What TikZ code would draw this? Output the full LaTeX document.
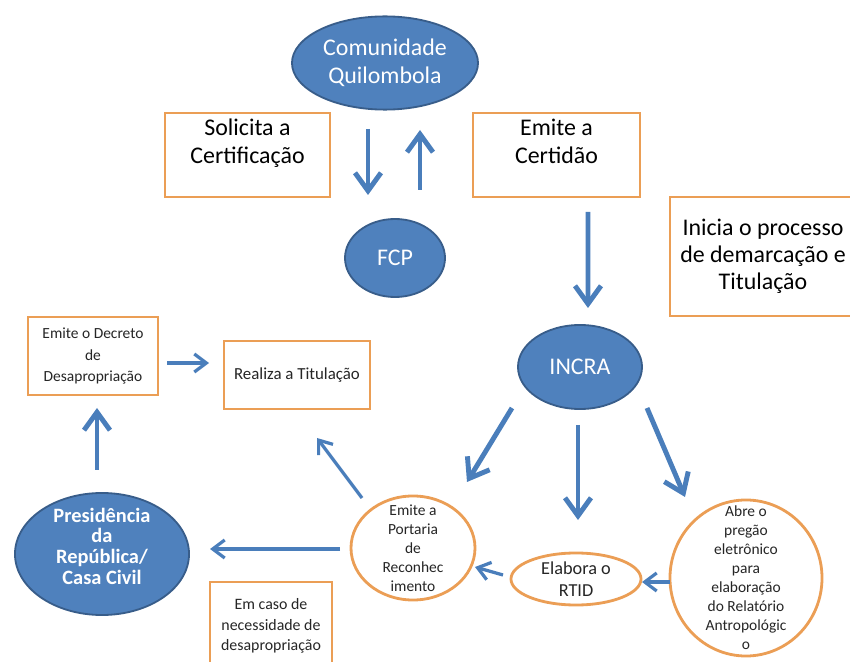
\documentclass[tikz,border=0pt]{standalone}
\usepackage{fontspec}
\setmainfont{Carlito}
\usetikzlibrary{arrows.meta, shapes.geometric}

\definecolor{nodeblue}{RGB}{79,129,189}
\definecolor{edgeblue}{RGB}{56,93,138}
\definecolor{arrowblue}{RGB}{74,126,187}
\definecolor{boxorange}{RGB}{235,158,85}

\tikzset{
  blueell/.style={ellipse, draw=edgeblue, line width=1.3pt, fill=nodeblue, text=white, inner sep=0pt, align=center},
  orangeell/.style={ellipse, draw=boxorange, line width=2pt, fill=white, inner sep=0pt},
  orangebox/.style={rectangle, draw=boxorange, line width=2pt, fill=white, align=center, inner sep=0pt},
  bigarrow/.style={draw=arrowblue, line width=3.5pt, -{Straight Barb[length=4.5mm,width=6.5mm]}},
  smallarrow/.style={draw=arrowblue, line width=2.3pt, -{Straight Barb[length=3mm,width=4.5mm]}},
  bigtext/.style={font=\fontsize{17}{20}\selectfont},
  smalltext/.style={font=\fontsize{11}{13.5}\selectfont, align=center, text=black!85},
}

\begin{document}
\begin{tikzpicture}[x=0.025cm, y=-0.025cm]

% Fix the frame of the picture
\useasboundingbox (0,0) rectangle (850,662);
\clip (0,0) rectangle (850,662);

% Draw the blue ellipses
\node[blueell, bigtext, minimum width=4.65cm, minimum height=2.33cm] (quilombola) at (385,63) {Comunidade\\Quilombola};
\node[blueell, bigtext, minimum width=2.5cm, minimum height=1.95cm] (fcp) at (395,258) {FCP};
\node[blueell, bigtext, minimum width=3.1cm, minimum height=2.1cm] (incra) at (580,367) {INCRA};
\node[blueell, minimum width=4.35cm, minimum height=3.05cm] (presidencia) at (102,554) {};
\node[text=white, align=center, font=\bfseries\fontsize{14.5}{14.7}\selectfont] (presidenciatxt) at ([shift={(0,-8)}]presidencia.center) {Presidência\\da\\República/\\Casa Civil};

% Draw the orange boxes
\node[orangebox, bigtext, minimum width=4.125cm, minimum height=2.1cm] (solicita) at (247.5,155) {Solicita a\\Certificação\\\mbox{}};
\node[orangebox, bigtext, minimum width=4.175cm, minimum height=2.1cm] (certidao) at (556.5,155) {Emite a\\Certidão\\\mbox{}};
\node[orangebox, font=\fontsize{17}{19}\selectfont, minimum width=4.65cm, minimum height=2.975cm] (inicia) at (763,256.5) {Inicia o processo\\de demarcação e\\Titulação};
\node[orangebox, font=\fontsize{11}{15}\selectfont, text=black!85, minimum width=3.25cm, minimum height=1.95cm] (decreto) at (93,356) {Emite o Decreto\\de\\Desapropriação};
\node[orangebox, font=\fontsize{12}{14}\selectfont, text=black!85, minimum width=3.65cm, minimum height=1.7cm] (realiza) at (297,375) {Realiza a Titulação};
\node[orangebox, font=\fontsize{11.3}{14.5}\selectfont, text=black!85, minimum width=3.05cm, minimum height=2.2cm] (emcaso) at (271,626) {Em caso de\\necessidade de\\desapropriação};

% Draw the orange ellipses and their texts
\node[orangeell, minimum width=3.1cm, minimum height=2.6cm] (portaria) at (413,548) {};
\node[smalltext] (portariatxt) at (portaria.center) {Emite a\\Portaria\\de\\Reconhec\\imento};
\node[orangeell, minimum width=3.25cm, minimum height=1.3cm] (rtid) at (576,579) {};
\node[smalltext, font=\fontsize{13}{16}\selectfont] (rtidtxt) at (rtid.center) {Elabora o\\RTID};
\node[orangeell, minimum width=3.8cm, minimum height=3.9cm] (abre) at (746,578) {};
\node[smalltext] (abretxt) at (abre.center) {Abre o\\pregão\\eletrônico\\para\\elaboração\\do Relatório\\Antropológic\\o};

% Draw the thick arrows
\draw[bigarrow] ([shift={(-17,66)}]quilombola.center) -- ([shift={(-27,-63)}]fcp.center);
\draw[bigarrow] ([shift={(25,-68)}]fcp.center) -- ([shift={(35,67)}]quilombola.center);
\draw[bigarrow] ([shift={(31.5,57)}]certidao.center) -- ([shift={(8,-59)}]incra.center);
\draw[bigarrow] ([shift={(-68,41)}]incra.center) -- ([shift={(54,-66)}]portaria.center);
\draw[bigarrow] ([shift={(-2,58)}]incra.center) -- ([shift={(2,-59)}]rtid.center);
\draw[bigarrow] ([shift={(67,41)}]incra.center) -- ([shift={(-61,-81)}]abre.center);
\draw[bigarrow] ([shift={(-5,-84)}]presidencia.center) -- ([shift={(4,52)}]decreto.center);

% Draw the thin arrows
\draw[smallarrow] ([shift={(-76,4)}]abre.center) -- ([shift={(66,3)}]rtid.center);
\draw[smallarrow] ([shift={(-73,-4)}]rtid.center) -- ([shift={(62,19)}]portaria.center);
\draw[smallarrow] ([shift={(-51,-50)}]portaria.center) -- ([shift={(20,63)}]realiza.center);
\draw[smallarrow] ([shift={(-73,1)}]portaria.center) -- ([shift={(108,-5)}]presidencia.center);
\draw[smallarrow] ([shift={(74,7)}]decreto.center) -- ([shift={(-88,-12)}]realiza.center);

\end{tikzpicture}
\end{document}
